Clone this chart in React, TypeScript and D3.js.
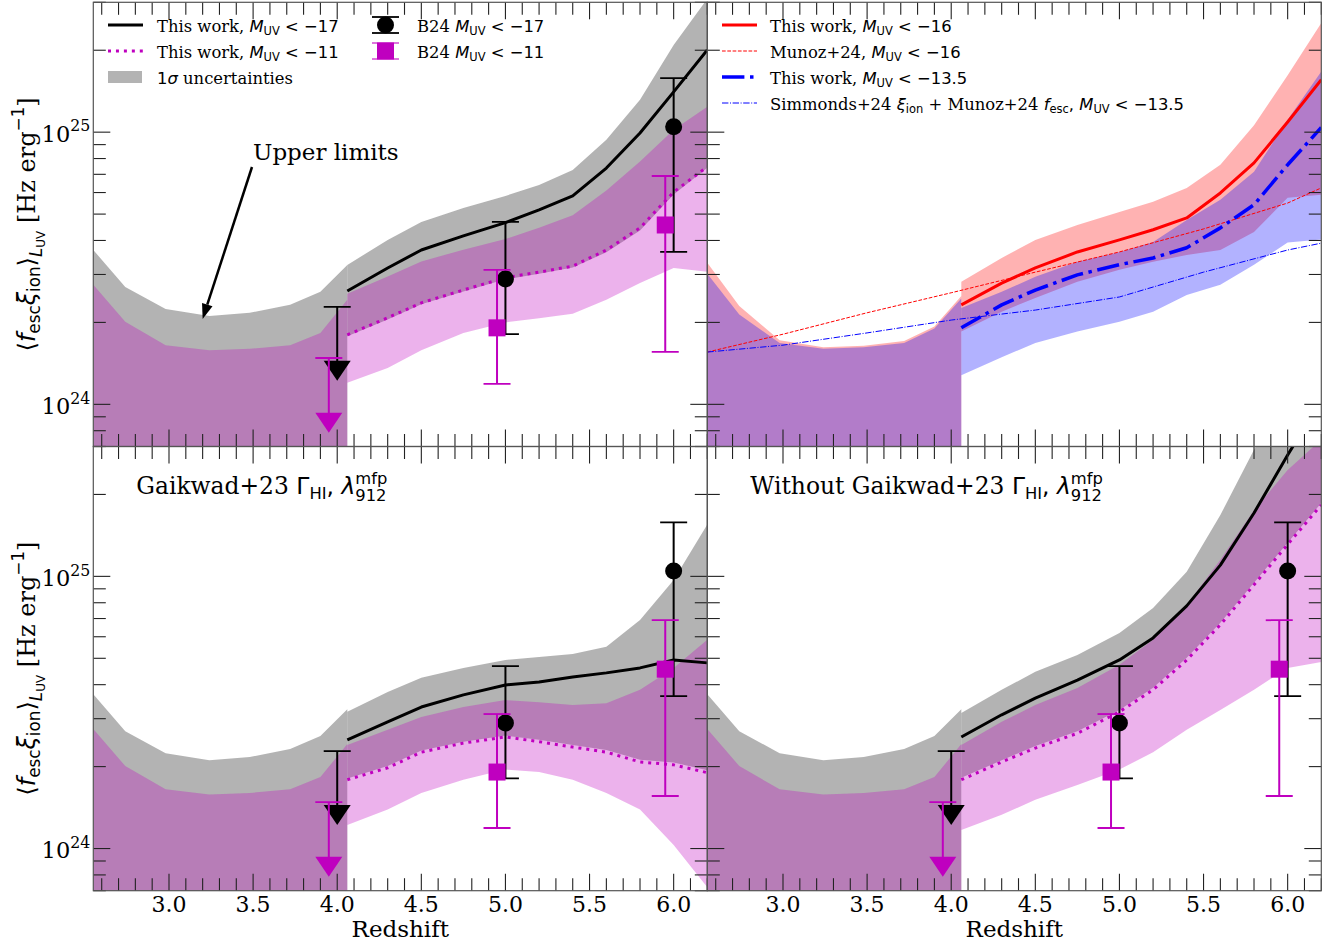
import React, { useEffect, useRef } from 'react';
import * as d3 from 'd3';

const W = 1342;
const H = 943;
const E24 = 1e24;

// ---- axes ----
const X_DOMAIN: [number, number] = [2.55, 6.2];
const Y_DOMAIN: [number, number] = [7e23, 3e25];
const X_MAJOR = [3.0, 3.5, 4.0, 4.5, 5.0, 5.5, 6.0];
const Y_MAJOR = [1e24, 1e25];
const Y_MAJOR_LABELS = ['24', '25'];

// ---- redshift grids ----
const zLow = [2.55, 2.74, 2.98, 3.24, 3.48, 3.72, 3.9, 4.06];
const zSim = [4.06, 4.3, 4.5, 4.75, 5.0, 5.2, 5.4, 5.6, 5.8, 6.0, 6.2];
const zLit = [2.55, 3.0, 3.5, 4.0, 4.5, 5.0, 5.5, 6.0, 6.2];

// values below are in units of 1e24 Hz erg^-1
// low-redshift constraint (z < 4), lower edge runs off the axis
const lowFloor = [0.5, 0.5, 0.5, 0.5, 0.5, 0.5, 0.5, 0.5];
const lowGrayHi = [3.69, 2.70, 2.24, 2.11, 2.17, 2.32, 2.59, 3.25];
const lowMagHi = [2.75, 2.01, 1.65, 1.58, 1.60, 1.65, 1.83, 2.42];
const lowRedHi = [3.31, 2.30, 1.72, 1.62, 1.64, 1.71, 1.93, 2.50];
const lowBlueHi = [3.02, 2.14, 1.68, 1.60, 1.62, 1.68, 1.90, 2.45];

// fiducial model, M_UV < -17 and M_UV < -11
const fidBright = [2.61, 3.17, 3.69, 4.16, 4.65, 5.18, 5.83, 7.38, 9.93, 14.06, 20.04];
const fidBrightHi = [3.25, 4.02, 4.68, 5.27, 5.83, 6.40, 7.26, 9.38, 13.15, 20.9, 30.9];
const fidBrightLo = [1.78, 2.05, 2.33, 2.60, 2.88, 3.02, 3.18, 3.62, 4.35, 5.90, 7.40];
const fidFaint = [1.80, 2.08, 2.36, 2.63, 2.92, 3.06, 3.22, 3.69, 4.45, 6.03, 7.46];
const fidFaintHi = [2.55, 2.95, 3.35, 3.70, 4.05, 4.45, 4.95, 6.10, 7.80, 10.2, 12.4];
const fidFaintLo = [1.20, 1.36, 1.58, 1.83, 2.00, 2.07, 2.15, 2.42, 2.79, 3.17, 3.07];

// fiducial model, M_UV < -16 and M_UV < -13.5
const fidM16 = [2.32, 2.79, 3.17, 3.63, 4.02, 4.38, 4.84, 5.98, 7.71, 10.9, 15.6];
const fidM16Hi = [2.82, 3.45, 4.02, 4.56, 5.09, 5.55, 6.24, 7.59, 10.6, 16.2, 25.2];
const fidM16Lo = [1.85, 2.19, 2.46, 2.82, 3.12, 3.34, 3.54, 3.69, 4.30, 5.74, 5.89];
const fidM135 = [1.91, 2.32, 2.63, 2.99, 3.26, 3.45, 3.76, 4.45, 5.41, 7.59, 10.4];
const fidM135Hi = [2.26, 2.59, 2.94, 3.34, 3.63, 3.95, 4.76, 5.65, 7.16, 11.1, 16.7];
const fidM135Lo = [1.28, 1.49, 1.68, 1.85, 2.01, 2.19, 2.52, 2.75, 3.26, 3.93, 4.03];

// literature curves
const munoz16 = [1.556, 1.81, 2.17, 2.57, 3.06, 3.63, 4.41, 5.49, 6.24];
const simmonds135 = [1.556, 1.65, 1.83, 2.04, 2.22, 2.48, 3.06, 3.69, 3.91];

// with Gaikwad+23 constraints
const gaiBright = [2.51, 2.92, 3.31, 3.67, 3.99, 4.09, 4.27, 4.42, 4.61, 4.93, 4.81];
const gaiBrightHi = [3.18, 3.76, 4.24, 4.61, 4.93, 5.06, 5.19, 5.51, 6.92, 9.7, 15.5];
const gaiBrightLo = [1.81, 2.01, 2.29, 2.47, 2.60, 2.51, 2.40, 2.30, 2.12, 2.07, 1.94];
const gaiFaint = [1.79, 1.98, 2.26, 2.44, 2.57, 2.47, 2.36, 2.26, 2.08, 2.03, 1.90];
const gaiFaintHi = [2.40, 2.73, 3.04, 3.31, 3.51, 3.45, 3.37, 3.42, 3.83, 4.61, 5.85];
const gaiFaintLo = [1.22, 1.39, 1.60, 1.79, 1.95, 1.91, 1.79, 1.60, 1.39, 1.03, 0.72];

// without Gaikwad+23 constraints
const noGaiBright = [2.57, 3.10, 3.57, 4.16, 4.93, 5.94, 7.79, 11.0, 17.1, 27.9, 44.6];
const noGaiBrightHi = [3.15, 3.83, 4.46, 5.14, 6.19, 7.65, 10.4, 16.8, 29.2, 48.5, 80.5];
const noGaiBrightLo = [1.82, 2.11, 2.38, 2.70, 3.23, 3.90, 5.02, 6.76, 9.48, 13.3, 18.6];
const noGaiFaint = [1.79, 2.08, 2.34, 2.65, 3.18, 3.83, 4.93, 6.64, 9.31, 13.1, 18.3];
const noGaiFaintHi = [2.40, 2.92, 3.37, 3.89, 4.73, 5.85, 7.85, 11.5, 17.5, 24.6, 31.8];
const noGaiFaintLo = [1.17, 1.33, 1.51, 1.71, 1.95, 2.26, 2.73, 3.23, 3.83, 4.61, 4.85];

// B24 measurements
const b24BrightZ = [5.0, 6.0];
const b24Bright = [2.89, 10.46];
const b24BrightLo = [1.81, 3.63];
const b24BrightHi = [4.68, 15.8];
const b24FaintZ = [4.95, 5.95];
const b24Faint = [1.91, 4.56];
const b24FaintLo = [1.19, 1.56];
const b24FaintHi = [3.12, 6.90];
// upper limits: [z, limit, arrow tip]
const b24BrightUL = [4.0, 2.28, 1.22];
const b24FaintUL = [3.95, 1.48, 0.787];

// ---- style ----
const SERIF = "'DejaVu Serif', serif";
const SANS = "'DejaVu Sans', sans-serif";
const C_GRAY = '#808080';
const C_MAG = '#bf00bf';
const C_RED = '#ff0000';
const C_BLUE = '#0000ff';
const C_K = '#000000';

const PW = 614;
const PH = 444.2;
const PANELS = [
  { key: 'tl', left: 93.3, top: 2.3, xLabels: false, yLabels: true },
  { key: 'tr', left: 707.3, top: 2.3, xLabels: false, yLabels: false },
  { key: 'bl', left: 93.3, top: 446.5, xLabels: true, yLabels: true },
  { key: 'br', left: 707.3, top: 446.5, xLabels: true, yLabels: false },
];

type Seg = { t?: string; k?: 'r' | 's' | 'si'; sc?: number; sh?: number; stack?: [string, string] };

function rich(parent: any, segs: Seg[], size: number, x: number, y: number, anchor = 'start', rotate = 0) {
  const g = parent.append('g');
  const text = g.append('text').attr('font-size', size).attr('fill', '#000').style('white-space', 'pre');
  let cur = 0;
  for (const s of segs) {
    if (s.stack) {
      const w = (text.node() as SVGTextElement).getComputedTextLength();
      const up = -0.42 * size;
      const down = 0.3 * size;
      text.append('tspan').attr('x', w).attr('dy', up - cur).attr('font-family', SANS)
        .attr('font-size', size * 0.7).text(s.stack[0]);
      text.append('tspan').attr('x', w).attr('dy', down - up).attr('font-family', SANS)
        .attr('font-size', size * 0.7).text(s.stack[1]);
      cur = down;
      continue;
    }
    const shift = (s.sh ?? 0) * size;
    const k = s.k ?? 'r';
    text.append('tspan')
      .attr('dy', shift - cur)
      .attr('font-family', k === 'r' ? SERIF : SANS)
      .attr('font-style', k === 'si' ? 'italic' : 'normal')
      .attr('font-size', size * (s.sc ?? 1))
      .text(s.t ?? '');
    cur = shift;
  }
  const w = (text.node() as SVGTextElement).getComputedTextLength();
  const dx = anchor === 'middle' ? -w / 2 : anchor === 'end' ? -w : 0;
  g.attr('transform', `translate(${x},${y}) rotate(${rotate}) translate(${dx},0)`);
  return g;
}

const SUB = 0.22;
const mUV = (rest: string): Seg[] => [
  { t: 'M', k: 'si' },
  { t: 'UV', k: 's', sc: 0.7, sh: SUB },
  { t: rest, k: 's' },
];

function draw(svgEl: SVGSVGElement) {
  const svg = d3.select(svgEl);
  svg.selectAll('*').remove();
  svg.append('rect').attr('width', W).attr('height', H).attr('fill', '#fff');
  const defs = svg.append('defs');

  PANELS.forEach((p) => {
    const x = d3.scaleLinear().domain(X_DOMAIN).range([p.left, p.left + PW]);
    const y = d3.scaleLog().domain(Y_DOMAIN).range([p.top + PH, p.top]);
    const clipId = `clip-${p.key}`;
    defs.append('clipPath').attr('id', clipId).append('rect')
      .attr('x', p.left).attr('y', p.top).attr('width', PW).attr('height', PH);
    const g = svg.append('g').attr('clip-path', `url(#${clipId})`);

    const band = (zs: number[], lo: number[], hi: number[], fill: string, op: number) => {
      const area = d3.area<number>()
        .x((_, i) => x(zs[i]))
        .y0((_, i) => y(lo[i] * E24))
        .y1((_, i) => y(hi[i] * E24));
      g.append('path').attr('d', area(zs) as string).attr('fill', fill).attr('fill-opacity', op);
    };
    const curve = (zs: number[], vs: number[], color: string, lw: number, dash?: string) => {
      const line = d3.line<number>().x((_, i) => x(zs[i])).y((_, i) => y(vs[i] * E24));
      const path = g.append('path').attr('d', line(zs) as string).attr('fill', 'none')
        .attr('stroke', color).attr('stroke-width', lw).attr('stroke-linejoin', 'round');
      if (dash) path.attr('stroke-dasharray', dash);
    };
    const errbars = (zs: number[], vs: number[], lo: number[], hi: number[], color: string, marker: 'o' | 's') => {
      zs.forEach((z, i) => {
        const cx = x(z);
        const cy = y(vs[i] * E24);
        const y0 = y(lo[i] * E24);
        const y1 = y(hi[i] * E24);
        g.append('line').attr('x1', cx).attr('x2', cx).attr('y1', y0).attr('y2', y1)
          .attr('stroke', color).attr('stroke-width', 2);
        [y0, y1].forEach((yy) => g.append('line').attr('x1', cx - 13.5).attr('x2', cx + 13.5)
          .attr('y1', yy).attr('y2', yy).attr('stroke', color).attr('stroke-width', 1.8));
        if (marker === 'o') g.append('circle').attr('cx', cx).attr('cy', cy).attr('r', 8.5).attr('fill', color);
        else g.append('rect').attr('x', cx - 8.5).attr('y', cy - 8.5).attr('width', 17).attr('height', 17).attr('fill', color);
      });
    };
    const upperLimit = (ul: number[], color: string) => {
      const cx = x(ul[0]);
      const yc = y(ul[1] * E24);
      const yt = y(ul[2] * E24);
      g.append('line').attr('x1', cx).attr('x2', cx).attr('y1', yc).attr('y2', yt - 10)
        .attr('stroke', color).attr('stroke-width', 2);
      g.append('line').attr('x1', cx - 13.5).attr('x2', cx + 13.5).attr('y1', yc).attr('y2', yc)
        .attr('stroke', color).attr('stroke-width', 1.8);
      g.append('path').attr('d', `M${cx - 13.5},${yt - 20}L${cx + 13.5},${yt - 20}L${cx},${yt}Z`).attr('fill', color);
    };
    const b24 = () => {
      errbars(b24BrightZ, b24Bright, b24BrightLo, b24BrightHi, C_K, 'o');
      upperLimit(b24BrightUL, C_K);
      errbars(b24FaintZ, b24Faint, b24FaintLo, b24FaintHi, C_MAG, 's');
      upperLimit(b24FaintUL, C_MAG);
    };

    const dotted = '3,4.95';
    const DASHDOT_THICK = '22.4,5.6,3.5,5.6';
    const DASHDOT_THIN = '6.4,1.6,1,1.6';
    const DASHED_THIN = '3.7,1.6';

    const lowGrayMag = () => {
      band(zLow, lowFloor, lowGrayHi, C_GRAY, 0.6);
      band(zLow, lowFloor, lowMagHi, C_MAG, 0.3);
    };

    if (p.key === 'tl') {
      lowGrayMag();
      band(zSim, fidBrightLo, fidBrightHi, C_GRAY, 0.6);
      band(zSim, fidFaintLo, fidFaintHi, C_MAG, 0.3);
      curve(zSim, fidBright, C_K, 3);
      curve(zSim, fidFaint, C_MAG, 3, dotted);
      b24();
    } else if (p.key === 'tr') {
      band(zLow, lowFloor, lowRedHi, C_RED, 0.3);
      band(zLow, lowFloor, lowBlueHi, C_BLUE, 0.3);
      band(zSim, fidM16Lo, fidM16Hi, C_RED, 0.3);
      band(zSim, fidM135Lo, fidM135Hi, C_BLUE, 0.3);
      curve(zSim, fidM16, C_RED, 3);
      curve(zLit, munoz16, C_RED, 1, DASHED_THIN);
      curve(zSim, fidM135, C_BLUE, 3.5, DASHDOT_THICK);
      curve(zLit, simmonds135, C_BLUE, 1, DASHDOT_THIN);
    } else if (p.key === 'bl') {
      lowGrayMag();
      band(zSim, gaiBrightLo, gaiBrightHi, C_GRAY, 0.6);
      band(zSim, gaiFaintLo, gaiFaintHi, C_MAG, 0.3);
      curve(zSim, gaiBright, C_K, 3);
      curve(zSim, gaiFaint, C_MAG, 3, dotted);
      b24();
    } else {
      lowGrayMag();
      band(zSim, noGaiBrightLo, noGaiBrightHi, C_GRAY, 0.6);
      band(zSim, noGaiFaintLo, noGaiFaintHi, C_MAG, 0.3);
      curve(zSim, noGaiBright, C_K, 3);
      curve(zSim, noGaiFaint, C_MAG, 3, dotted);
      b24();
    }

    // ---- frame and ticks ----
    const ax = svg.append('g');
    const TICK = '#222';
    const xMinor = d3.range(26, 63).map((v) => v / 10).filter((v) => !X_MAJOR.some((m) => Math.abs(m - v) < 1e-6));
    const yMinor: number[] = [];
    [1e23, 1e24, 1e25].forEach((d) => [2, 3, 4, 5, 6, 7, 8, 9].forEach((m) => {
      const v = m * d;
      if (v >= Y_DOMAIN[0] * 0.999 && v <= Y_DOMAIN[1] * 1.001) yMinor.push(v);
    }));
    const bottom = p.top + PH;
    const right = p.left + PW;
    const tick = (x1: number, y1: number, x2: number, y2: number) =>
      ax.append('line').attr('x1', x1).attr('y1', y1).attr('x2', x2).attr('y2', y2)
        .attr('stroke', TICK).attr('stroke-width', 1.1);
    X_MAJOR.forEach((v) => { const xx = x(v); tick(xx, bottom, xx, bottom - 17); tick(xx, p.top, xx, p.top + 17); });
    xMinor.forEach((v) => { const xx = x(v); tick(xx, bottom, xx, bottom - 12.5); tick(xx, p.top, xx, p.top + 12.5); });
    Y_MAJOR.forEach((v) => { const yy = y(v); tick(p.left, yy, p.left + 17, yy); tick(right, yy, right - 17, yy); });
    yMinor.forEach((v) => { const yy = y(v); tick(p.left, yy, p.left + 12.5, yy); tick(right, yy, right - 12.5, yy); });
    ax.append('rect').attr('x', p.left).attr('y', p.top).attr('width', PW).attr('height', PH)
      .attr('fill', 'none').attr('stroke', '#555').attr('stroke-width', 1.2);

    if (p.xLabels) {
      X_MAJOR.forEach((v) => {
        ax.append('text').attr('x', x(v)).attr('y', bottom + 21).attr('text-anchor', 'middle')
          .attr('font-family', SERIF).attr('font-size', 22).text(v.toFixed(1));
      });
      ax.append('text').attr('x', p.left + PW / 2).attr('y', bottom + 46).attr('text-anchor', 'middle')
        .attr('font-family', SERIF).attr('font-size', 23).text('Redshift');
    }
    if (p.yLabels) {
      Y_MAJOR.forEach((v, i) => {
        rich(ax, [{ t: '10', k: 'r' }, { t: Y_MAJOR_LABELS[i], k: 'r', sc: 0.7, sh: -0.45 }], 22.5, p.left - 3, y(v) + 9.4, 'end');
      });
      rich(ax, [
        { t: '⟨', k: 's' },
        { t: 'f', k: 'si' },
        { t: 'esc', k: 's', sc: 0.7, sh: SUB },
        { t: 'ξ', k: 'si', sh: 0 },
        { t: 'ion', k: 's', sc: 0.7, sh: SUB },
        { t: '⟩', k: 's', sh: 0 },
        { t: 'L', k: 'si', sc: 0.7, sh: 0.3 },
        { t: 'UV', k: 's', sc: 0.5, sh: 0.42 },
        { t: ' [Hz erg', k: 'r', sh: 0 },
        { t: '−1', k: 's', sc: 0.7, sh: -0.42 },
        { t: ']', k: 'r', sh: 0 },
      ], 24, 34.5, p.top + PH / 2, 'middle', -90);
    }

    // ---- legends & annotations ----
    const L = svg.append('g');
    const FL = 16.4;
    if (p.key === 'tl') {
      const lx0 = 108, lx1 = 143, tx = 157;
      L.append('line').attr('x1', lx0).attr('x2', lx1).attr('y1', 25).attr('y2', 25).attr('stroke', C_K).attr('stroke-width', 3);
      rich(L, [{ t: 'This work, ', k: 'r' }, ...mUV(' < −17')], FL, tx, 31.5);
      L.append('line').attr('x1', lx0).attr('x2', lx1).attr('y1', 51).attr('y2', 51).attr('stroke', C_MAG).attr('stroke-width', 3).attr('stroke-dasharray', dotted);
      rich(L, [{ t: 'This work, ', k: 'r' }, ...mUV(' < −11')], FL, tx, 57.5);
      L.append('rect').attr('x', lx0).attr('y', 71).attr('width', 34).attr('height', 12).attr('fill', C_GRAY).attr('fill-opacity', 0.6);
      rich(L, [{ t: '1', k: 's' }, { t: 'σ', k: 'si' }, { t: ' uncertainties', k: 'r' }], FL, tx, 83.5);

      const mx = 385.5;
      L.append('line').attr('x1', mx).attr('x2', mx).attr('y1', 17).attr('y2', 33).attr('stroke', C_K).attr('stroke-width', 2);
      [17, 33].forEach((yy) => L.append('line').attr('x1', mx - 13.5).attr('x2', mx + 13.5).attr('y1', yy).attr('y2', yy).attr('stroke', C_K).attr('stroke-width', 1.8));
      L.append('circle').attr('cx', mx).attr('cy', 25).attr('r', 8.5).attr('fill', C_K);
      rich(L, [{ t: 'B24 ', k: 'r' }, ...mUV(' < −17')], FL, 417, 31.5);
      [43, 59].forEach((yy) => L.append('line').attr('x1', mx - 13.5).attr('x2', mx + 13.5).attr('y1', yy).attr('y2', yy).attr('stroke', C_MAG).attr('stroke-opacity', 0.6).attr('stroke-width', 1.8));
      L.append('line').attr('x1', mx).attr('x2', mx).attr('y1', 43).attr('y2', 59).attr('stroke', C_MAG).attr('stroke-width', 2);
      L.append('rect').attr('x', mx - 8.5).attr('y', 42.5).attr('width', 17).attr('height', 17).attr('fill', C_MAG);
      rich(L, [{ t: 'B24 ', k: 'r' }, ...mUV(' < −11')], FL, 417, 57.5);

      // arrow towards the upper limits
      const ax0 = 252, ay0 = 167, ax1 = x(3.2), ay1 = y(2.06e24);
      const ang = Math.atan2(ay1 - ay0, ax1 - ax0);
      const hl = 15, hw = 5.5;
      const bx = ax1 - hl * Math.cos(ang), by = ay1 - hl * Math.sin(ang);
      L.append('line').attr('x1', ax0).attr('y1', ay0).attr('x2', bx).attr('y2', by).attr('stroke', C_K).attr('stroke-width', 2.5);
      L.append('path').attr('d', `M${ax1},${ay1}L${bx + hw * Math.sin(ang)},${by - hw * Math.cos(ang)}L${bx - hw * Math.sin(ang)},${by + hw * Math.cos(ang)}Z`).attr('fill', C_K);
      rich(L, [{ t: 'Upper limits', k: 'r' }], 23, 253, 160);
    } else if (p.key === 'tr') {
      const lx0 = 722, lx1 = 757, tx = 770;
      const row = (yy: number, color: string, lw: number, dash: string | null) => {
        const l = L.append('line').attr('x1', lx0).attr('x2', lx1).attr('y1', yy).attr('y2', yy).attr('stroke', color).attr('stroke-width', lw);
        if (dash) l.attr('stroke-dasharray', dash);
      };
      row(25, C_RED, 3, null);
      rich(L, [{ t: 'This work, ', k: 'r' }, ...mUV(' < −16')], FL, tx, 31.5);
      row(51, C_RED, 1, DASHED_THIN);
      rich(L, [{ t: 'Munoz+24, ', k: 'r' }, ...mUV(' < −16')], FL, tx, 57.5);
      row(77, C_BLUE, 3.5, DASHDOT_THICK);
      rich(L, [{ t: 'This work, ', k: 'r' }, ...mUV(' < −13.5')], FL, tx, 83.5);
      row(103, C_BLUE, 1, DASHDOT_THIN);
      rich(L, [
        { t: 'Simmonds+24 ', k: 'r' }, { t: 'ξ', k: 'si' }, { t: 'ion', k: 's', sc: 0.7, sh: SUB },
        { t: ' + Munoz+24 ', k: 'r', sh: 0 }, { t: 'f', k: 'si' }, { t: 'esc', k: 's', sc: 0.7, sh: SUB },
        { t: ', ', k: 's', sh: 0 }, ...mUV(' < −13.5'),
      ], FL, tx, 109.5);
    } else {
      const pre = p.key === 'bl' ? 'Gaikwad+23 ' : 'Without Gaikwad+23 ';
      rich(L, [
        { t: pre, k: 'r' }, { t: 'Γ', k: 's' }, { t: 'HI', k: 's', sc: 0.7, sh: SUB },
        { t: ', ', k: 's', sh: 0 }, { t: 'λ', k: 'si' }, { stack: ['mfp', '912'] },
      ], 23.4, p.left + 43, p.top + 47);
    }
  });
}

export default function App() {
  const ref = useRef<SVGSVGElement>(null);
  useEffect(() => {
    if (ref.current) draw(ref.current);
  }, []);
  return (
    <svg
      ref={ref}
      width={W}
      height={H}
      style={{ position: 'absolute', left: 0, top: 0, display: 'block', background: '#fff' }}
    />
  );
}
